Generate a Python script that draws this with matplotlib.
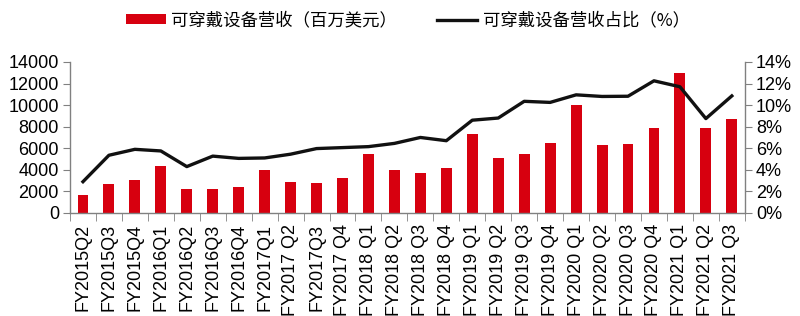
import numpy as np
import matplotlib.pyplot as plt
from matplotlib.ticker import FixedLocator, PercentFormatter

plt.rcParams['font.family'] = ['Liberation Sans', 'Noto Sans CJK SC', 'DejaVu Sans']

quarters = ["FY2015Q2", "FY2015Q3", "FY2015Q4", "FY2016Q1", "FY2016Q2", "FY2016Q3",
            "FY2016Q4", "FY2017Q1", "FY2017 Q2", "FY2017Q3", "FY2017 Q4", "FY2018 Q1",
            "FY2018 Q2", "FY2018 Q3", "FY2018 Q4", "FY2019 Q1", "FY2019 Q2", "FY2019 Q3",
            "FY2019 Q4", "FY2020 Q1", "FY2020 Q2", "FY2020 Q3", "FY2020 Q4", "FY2021 Q1",
            "FY2021 Q2", "FY2021 Q3"]
revenue = [1700, 2650, 3080, 4350, 2200, 2220, 2380, 4000, 2850, 2750, 3200, 5500,
           3950, 3750, 4200, 7300, 5100, 5500, 6500, 10000, 6300, 6420, 7900, 13000,
           7850, 8750]
share = [2.9, 5.35, 5.9, 5.75, 4.3, 5.27, 5.06, 5.1, 5.45, 5.97, 6.06, 6.15,
         6.45, 7.0, 6.7, 8.6, 8.8, 10.35, 10.25, 10.95, 10.8, 10.82, 12.25, 11.7,
         8.75, 10.85]

red = "#D7000F"
spine_col = "#808080"

fig = plt.figure(figsize=(8, 3.16), dpi=100)
ax = fig.add_axes([0.0875, 0.326, 0.8435, 0.478])
x = np.arange(len(quarters))

bars = ax.bar(x, revenue, width=0.42, color=red, zorder=2)
ax.set_xlim(-0.5, len(quarters) - 0.5)
ax.set_ylim(0, 14000)
ax.set_yticks(np.arange(0, 14001, 2000))

ax2 = ax.twinx()
line, = ax2.plot(x, share, color="#111111", lw=2.4, zorder=3)
ax2.set_ylim(0, 14)
ax2.set_yticks(np.arange(0, 15, 2))
ax2.yaxis.set_major_formatter(PercentFormatter(decimals=0))

for a in (ax, ax2):
    a.spines['top'].set_visible(False)
    for s in a.spines.values():
        s.set_color(spine_col)
        s.set_linewidth(1.0)
    a.tick_params(axis='y', labelsize=13, direction='out', length=5,
                  color=spine_col, pad=3)
ax.spines['right'].set_visible(False)
ax2.spines['left'].set_visible(False)
ax2.spines['bottom'].set_visible(False)

ax.set_xticks(x)
ax.set_xticklabels(quarters, rotation=90, fontsize=13)
ax.tick_params(axis='x', which='major', length=0, pad=8)
ax.xaxis.set_minor_locator(FixedLocator(np.arange(-0.5, len(quarters), 1)))
ax.tick_params(axis='x', which='minor', length=6, direction='out', color=spine_col)

fig.legend([bars, line], ["可穿戴设备营收（百万美元）", "可穿戴设备营收占比（%）"],
           loc='upper left', bbox_to_anchor=(0.157, 0.965), ncol=2, frameon=False,
           prop={'family': ['Noto Sans CJK SC'], 'size': 12.5},
           borderpad=0, borderaxespad=0,
           handlelength=2.3, handleheight=0.5, handletextpad=0.3, columnspacing=2.35)

fig.savefig("out.png", dpi=100)
